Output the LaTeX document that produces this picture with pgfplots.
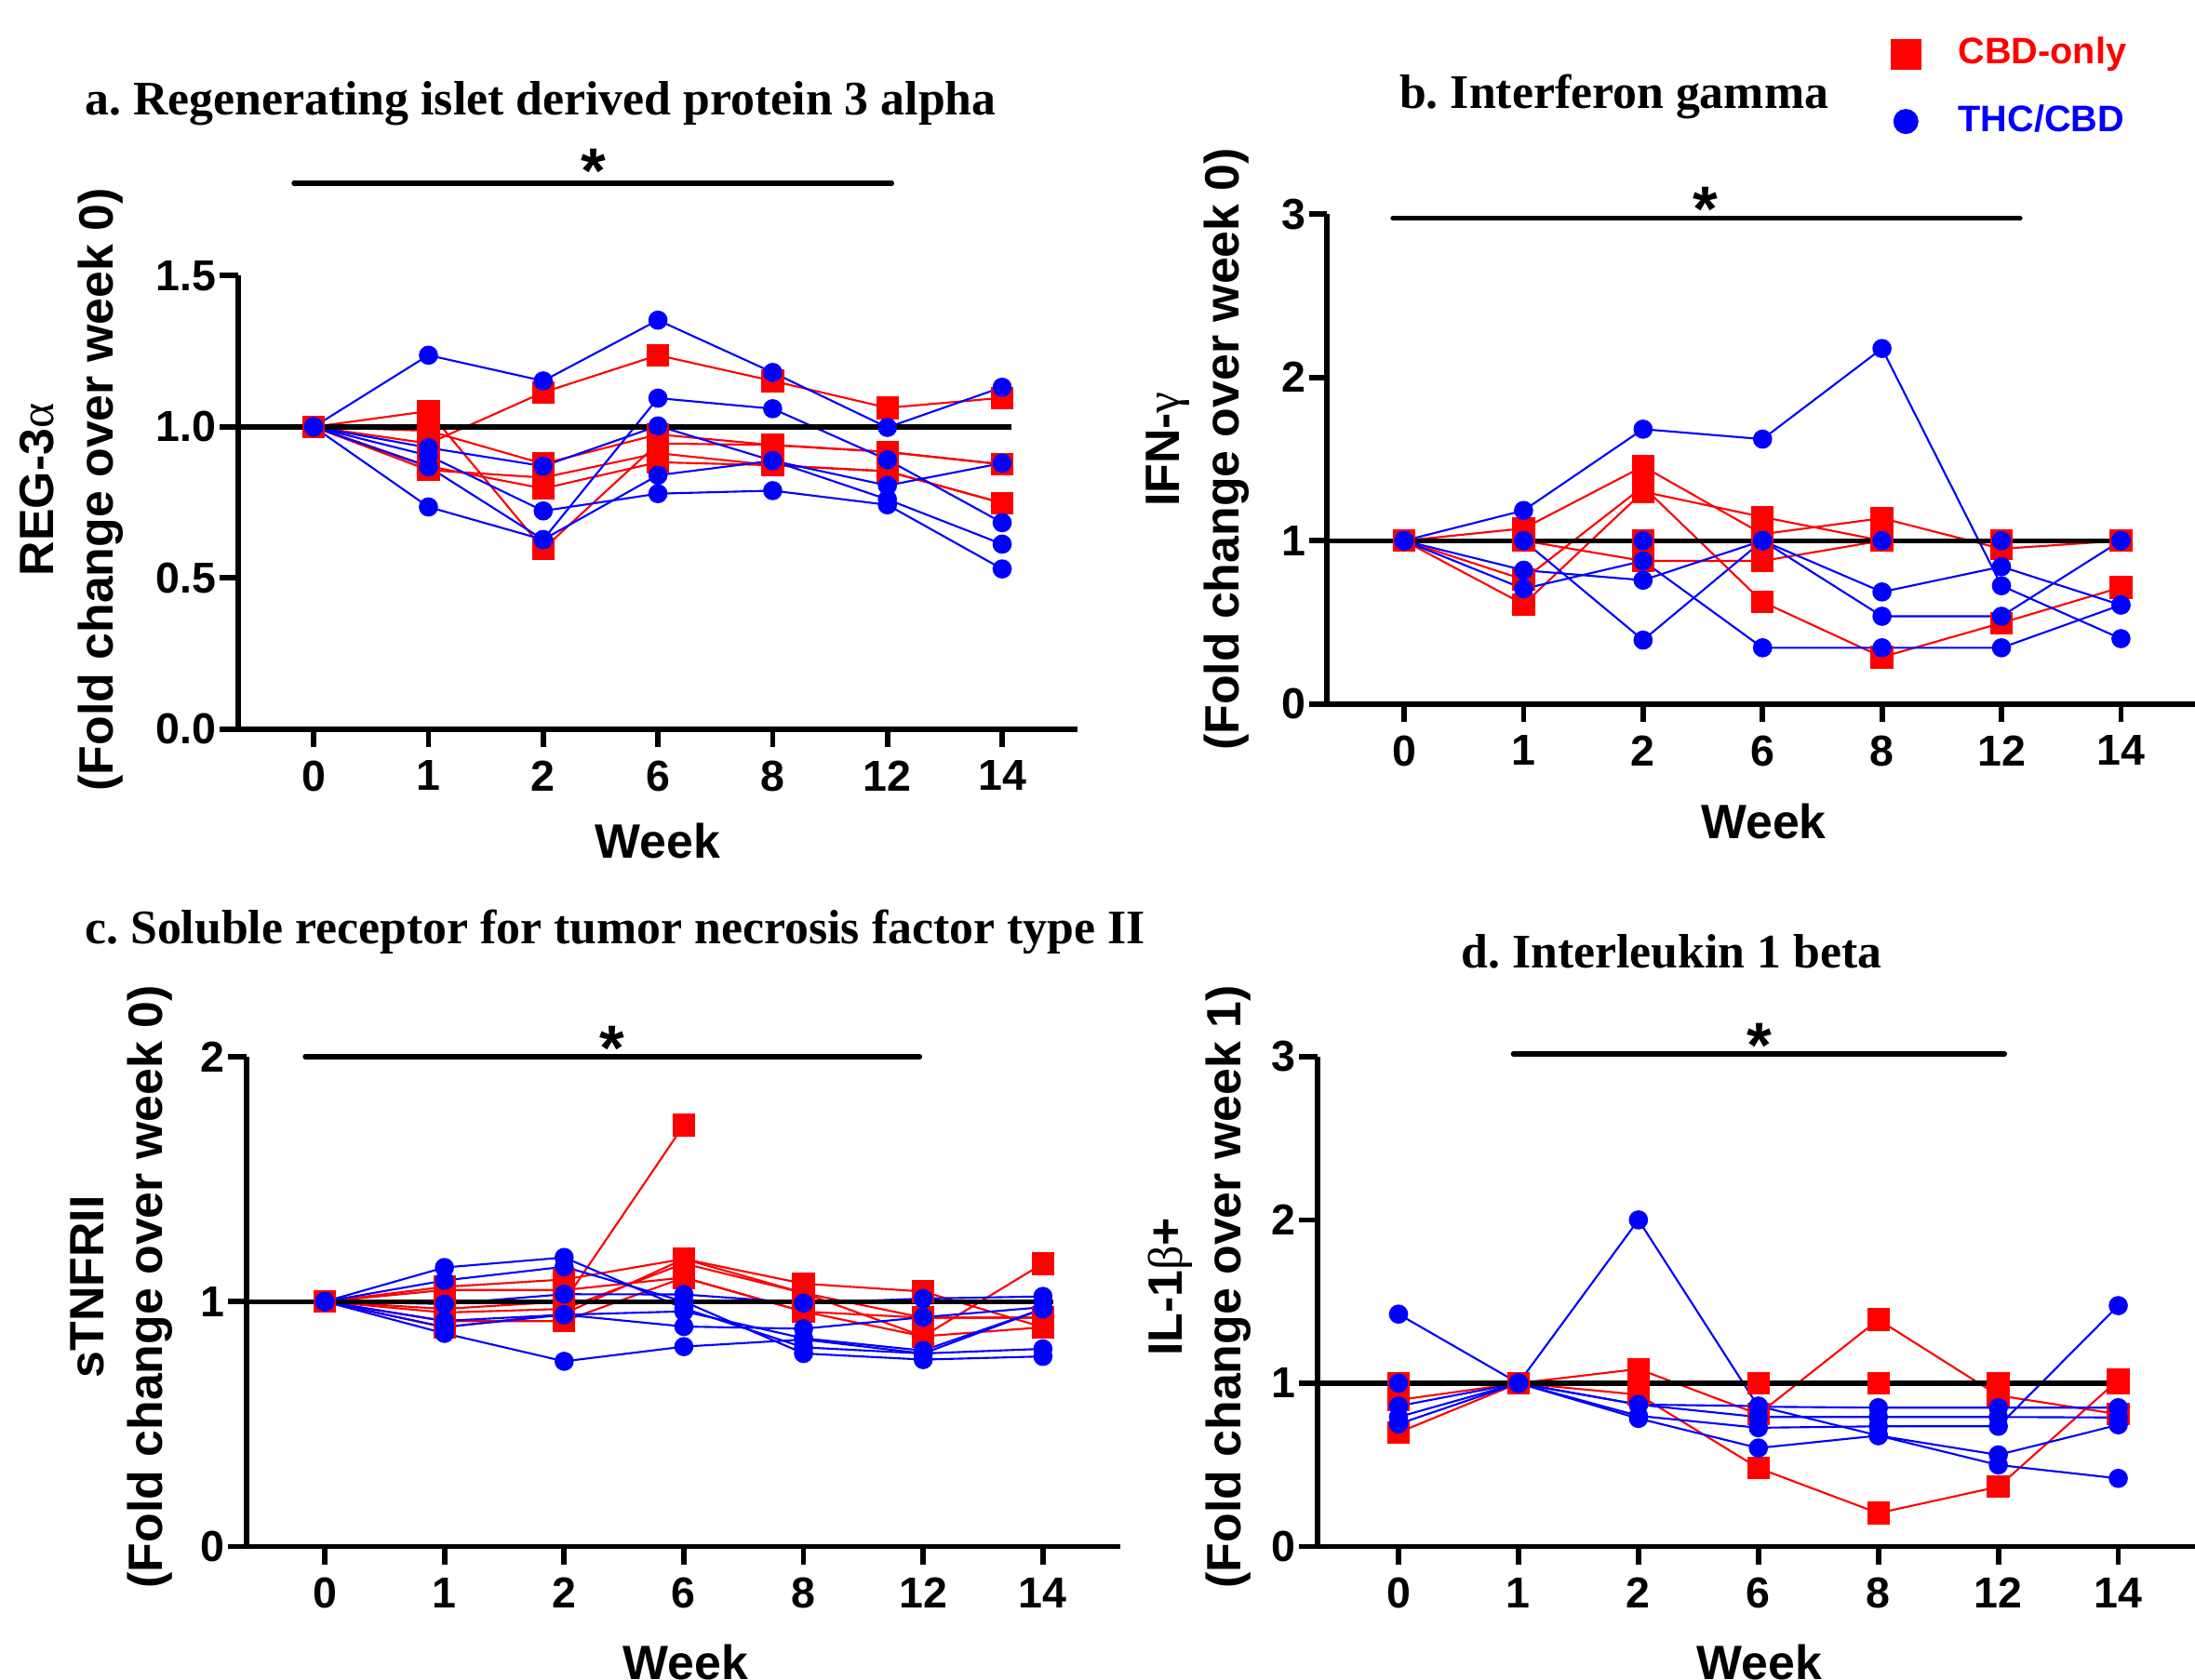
\documentclass[border=0pt]{standalone}
\usepackage{fontspec}
\setmainfont{Liberation Sans}
\newfontfamily\serif{Liberation Serif}
\usepackage{pgfplots}
\usepackage{pgfplotstable}
\pgfplotsset{compat=1.18}

\definecolor{cbdred}{RGB}{255,0,0}
\definecolor{thcblue}{RGB}{0,0,255}

\newcommand\tickfont{\fontsize{8.8}{10}\selectfont\bfseries}
\newcommand\labfont{\fontsize{9.8}{12}\selectfont\bfseries}
\newcommand\titfont{\serif\fontsize{9.8}{11}\selectfont\bfseries\frenchspacing}
\newcommand\legfont{\fontsize{7.5}{9}\selectfont\bfseries}
\newcommand\starfont{\fontsize{13}{13}\selectfont\bfseries}
\newcommand\gr[1]{{\serif\mdseries #1}}

% x = week index (0,1,2,6,8,12,14); r = CBD-only, b = THC/CBD
\pgfplotstableread{
x r1    r2    r3    r4    r5    b1    b2    b3    b4    b5
0 1     1     1     1     1     1     1     1     1     1
1 0.945 1.052 0.987 0.857 0.870 1.237 0.931 0.905 0.868 0.735
2 1.114 0.596 0.878 0.832 0.796 1.152 0.870 0.722 0.627 0.627
3 1.237 0.945 0.975 0.913 0.883 1.353 1.003 0.779 1.095 0.840
4 1.152 0.940 0.940 0.873 0.873 1.180 0.888 0.789 1.060 0.888
5 1.063 0.917 0.917 0.853 0.853 0.998 0.760 0.742 0.891 0.806
6 1.096 0.876 0.876 0.748 0.748 1.131 0.612 0.530 0.683 0.880
}\tA

\pgfplotstableread{
x r1    r2    r3    r4    r5    b1    b2    b3    b4    b5
0 1     1     1     1     1     1     1     1     1     1
1 1.075 0.762 0.610 1.000 1.000 1.185 1.000 0.819 0.705 1.000
2 1.455 1.331 1.300 0.876 1.000 1.683 0.391 0.758 0.876 1.000
3 1.040 0.625 1.145 0.876 1.000 1.622 1.000 1.000 0.344 1.000
4 1.138 0.287 1.000 1.000 1.000 2.177 0.686 0.537 0.344 1.000
5 0.950 0.496 1.000 1.000 1.000 0.724 0.841 0.537 0.344 1.000
6 1.000 0.714 1.000 1.000 1.000 0.400 0.606 1.000 0.606 1.000
}\tB

\pgfplotstableread{
x r1    r2    r3    r4    r5    r6    b1    b2    b3    b4    b5    b6
0 1     1     1     1     1     1     1     1     1     1     1     1
1 0.970 1.060 1.047 0.955 0.920 0.895 1.139 1.086 0.990 0.921 0.870 0.896
2 1.000 1.090 1.047 0.970 0.920 0.950 1.180 1.142 1.030 0.946 0.756 0.946
3 1.720 1.174 1.098 1.155 1.098 1.174 0.972 1.000 1.029 0.898 0.816 0.960
4 nan   1.073 0.959 1.035 0.959 1.035 0.813 0.788 0.994 0.889 0.845 0.850
5 nan   1.041 0.934 0.858 0.858 0.934 0.788 0.763 1.012 0.936 0.788 0.800
6 nan   0.895 0.934 1.155 0.895 0.934 0.970 0.776 1.021 0.977 0.807 0.970
}\tC

\pgfplotstableread{
x r1    r2    r3    r4    b1    b2    b3    b4    b5
0 0.897 0.698 1.000 1.000 1.423 1.000 0.860 0.793 0.750
1 1     1     1     1     1     1     1     1     1
2 1.087 0.930 1.000 1.000 2.000 0.869 0.869 0.800 0.784
3 0.810 0.480 1.000 1.000 0.856 0.860 0.793 0.727 0.603
4 1.389 0.204 1.000 1.000 0.850 0.679 0.793 0.736 0.679
5 0.925 0.366 1.000 1.000 0.850 0.499 0.793 0.736 0.561
6 0.810 1.020 1.000 1.000 0.850 0.417 0.790 1.475 0.745
}\tD

\pgfplotsset{
  panel/.style={
    scale only axis, clip=false,
    axis x line=bottom, axis y line=left,
    axis line style={line width=1.1pt,-},
    every tick/.style={black,line width=1.1pt},
    major tick length=3.7pt, tick align=outside,
    xtick={0,...,6}, xticklabels={0,1,2,6,8,12,14},
    ymin=0,
    ticklabel style={font=\tickfont},
    xticklabel style={yshift=0.8pt},
    yticklabel style={inner xsep=0.5pt},
    /pgf/number format/assume math mode=true,
    label style={font=\labfont, align=center},
    xlabel={Week},
  },
  cbd/.style={cbdred, line width=0.4pt, mark=square*, mark size=2.1pt, forget plot},
  thc/.style={thcblue, line width=0.4pt, mark=*, mark size=1.75pt, forget plot},
}
\tikzset{refl/.style={black, line width=1pt}}

\begin{document}
\begin{tikzpicture}
\useasboundingbox (0,0) rectangle (15.68,12);

% a. REG-3alpha
\begin{axis}[panel, at={(1.70cm,6.79cm)}, anchor=south west,
  width=6.0cm, height=3.24cm, xmin=-0.66, xmax=6.66, ymax=1.5,
  ytick={0,0.5,1,1.5},
  yticklabel style={/pgf/number format/.cd, fixed, fixed zerofill, precision=1},
  ylabel={REG-3\gr{α}\\(Fold change over week 0)},
  ylabel style={at={(axis description cs:-0.198,0.528)}, anchor=center},
  xlabel style={at={(axis description cs:0.5,-0.247)}, anchor=center}]
\pgfplotsinvokeforeach{r1,r2,r3,r4,r5}{\addplot[cbd] table[x=x,y=#1]{\tA};}
\pgfplotsinvokeforeach{b1,b2,b3,b4,b5}{\addplot[thc] table[x=x,y=#1]{\tA};}
\draw[refl] (axis cs:-0.66,1) -- (axis cs:6.08,1);
\end{axis}

% b. IFN-gamma
\begin{axis}[panel, at={(9.48cm,6.97cm)}, anchor=south west,
  width=6.20cm, height=3.50cm, xmin=-0.645, xmax=6.62, ymax=3,
  ytick={0,1,2,3},
  ylabel={IFN-\gr{γ}\\(Fold change over week 0)},
  ylabel style={at={(axis description cs:-0.149,0.52)}, anchor=center},
  xlabel style={at={(axis description cs:0.503,-0.24)}, anchor=center},
  legend style={draw=none, fill=none, font=\legfont,
    at={(axis description cs:0.632,1.403)}, anchor=north west, row sep=2.7pt},
  legend cell align=left]
\addlegendimage{only marks, mark=square*, cbdred, mark size=2.95pt}
\addlegendentry{\hspace*{0.2cm}\textcolor{cbdred}{CBD-only}}
\addlegendimage{only marks, mark=*, thcblue, mark size=2.35pt}
\addlegendentry{\hspace*{0.2cm}\textcolor{thcblue}{THC/CBD}}
\pgfplotsinvokeforeach{r1,r2,r3,r4,r5}{\addplot[cbd] table[x=x,y=#1]{\tB};}
\pgfplotsinvokeforeach{b1,b2,b3,b4,b5}{\addplot[thc] table[x=x,y=#1]{\tB};}
\draw[refl] (axis cs:-0.645,1) -- (axis cs:6.08,1);
\end{axis}

% c. sTNFRII
\begin{axis}[panel, at={(1.76cm,0.95cm)}, anchor=south west,
  width=6.24cm, height=3.50cm, xmin=-0.655, xmax=6.643, ymax=2,
  ytick={0,1,2},
  ylabel={sTNFRII\\(Fold change over week 0)},
  ylabel style={at={(axis description cs:-0.143,0.53)}, anchor=center},
  xlabel style={at={(axis description cs:0.503,-0.237)}, anchor=center}]
\pgfplotsinvokeforeach{r1,r2,r3,r4,r5,r6}{\addplot[cbd] table[x=x,y=#1]{\tC};}
\pgfplotsinvokeforeach{b1,b2,b3,b4,b5,b6}{\addplot[thc] table[x=x,y=#1]{\tC};}
\draw[refl] (axis cs:-0.655,1) -- (axis cs:6.09,1);
\end{axis}

% d. IL-1beta
\begin{axis}[panel, at={(9.41cm,0.95cm)}, anchor=south west,
  width=6.27cm, height=3.50cm, xmin=-0.677, xmax=6.64, ymax=3,
  ytick={0,1,2,3},
  ylabel={IL-1\gr{β}+\\(Fold change over week 1)},
  ylabel style={at={(axis description cs:-0.134,0.53)}, anchor=center},
  xlabel style={at={(axis description cs:0.504,-0.237)}, anchor=center}]
\pgfplotsinvokeforeach{r1,r2,r3,r4}{\addplot[cbd] table[x=x,y=#1]{\tD};}
\pgfplotsinvokeforeach{b1,b2,b3,b4,b5}{\addplot[thc] table[x=x,y=#1]{\tD};}
\draw[refl] (axis cs:-0.677,1) -- (axis cs:6.08,1);
\end{axis}

% titles
\node[font=\titfont, anchor=west, inner sep=0pt] at (0.60,11.26) {a. Regenerating islet derived protein 3 alpha};
\node[font=\titfont, inner sep=0pt] at (11.53,11.31) {b. Interferon gamma};
\node[font=\titfont, anchor=west, inner sep=0pt] at (0.60,5.34) {c. Soluble receptor for tumor necrosis factor type II};
\node[font=\titfont, inner sep=0pt] at (11.94,5.20) {d. Interleukin 1 beta};

% significance bars
\draw[line width=1pt, line cap=round] (2.10,10.69) -- (6.37,10.69);
\node[font=\starfont, anchor=base, inner sep=0pt] at (4.24,10.62) {*};
\draw[line width=1pt, line cap=round] (9.95,10.44) -- (14.43,10.44);
\node[font=\starfont, anchor=base, inner sep=0pt] at (12.18,10.35) {*};
\draw[line width=1pt, line cap=round] (2.18,4.45) -- (6.57,4.45);
\node[font=\starfont, anchor=base, inner sep=0pt] at (4.37,4.35) {*};
\draw[line width=1pt, line cap=round] (10.81,4.47) -- (14.32,4.47);
\node[font=\starfont, anchor=base, inner sep=0pt] at (12.57,4.37) {*};
\end{tikzpicture}
\end{document}
